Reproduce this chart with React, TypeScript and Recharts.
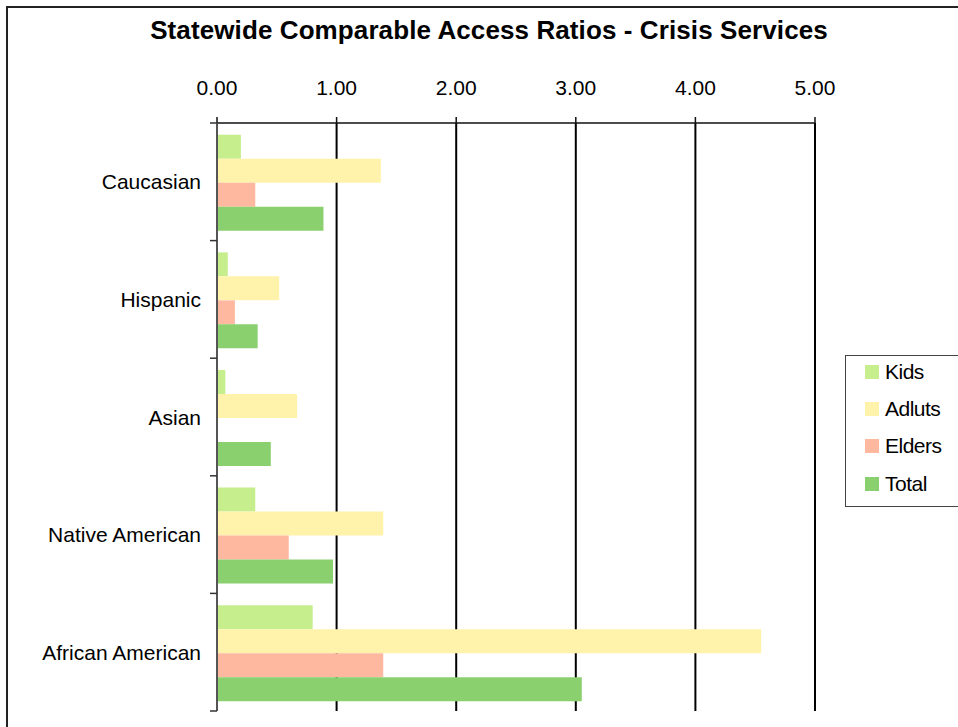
import React from "react";
import { BarChart, Bar, XAxis, YAxis, CartesianGrid, Legend } from "recharts";

const categories = ["Caucasian", "Hispanic", "Asian", "Native American", "African American"];
const kids = [0.2, 0.09, 0.07, 0.32, 0.8];
const adults = [1.37, 0.52, 0.67, 1.39, 4.55];
const elders = [0.32, 0.15, 0, 0.6, 1.39];
const total = [0.89, 0.34, 0.45, 0.97, 3.05];
const xTicks = [0, 1, 2, 3, 4, 5];

const seriesNames = ["Kids", "Adluts", "Elders", "Total"];
const seriesKeys = ["kids", "adults", "elders", "total"];
const colors = ["#C6EE8C", "#FFF2AA", "#FFB8A0", "#8AD06E"];

const data = categories.map((name, i) => ({
  name,
  kids: kids[i],
  adults: adults[i],
  elders: elders[i],
  total: total[i],
}));

const W = 958;
const H = 727;
const MARGIN = { top: 60, right: 143, bottom: 16, left: 0 };
const X_AXIS_H = 63;
const Y_AXIS_W = 217;
const PLOT_H = H - MARGIN.top - MARGIN.bottom - X_AXIS_H;
const BAND = PLOT_H / categories.length;
const FONT = "'Liberation Sans', Arial, sans-serif";

const YTick = (props: any) => {
  const { y, payload, index } = props;
  const axisX = MARGIN.left + Y_AXIS_W;
  return (
    <g>
      <text
        x={axisX - 16}
        y={y}
        textAnchor="end"
        dominantBaseline="central"
        fontSize={21}
        fontFamily={FONT}
        fill="#000"
      >
        {payload.value}
      </text>
      <line x1={axisX - 7} x2={axisX} y1={y - BAND / 2} y2={y - BAND / 2} stroke="#333" strokeWidth={1.5} />
      {index === categories.length - 1 && (
        <line x1={axisX - 7} x2={axisX} y1={y + BAND / 2} y2={y + BAND / 2} stroke="#333" strokeWidth={1.5} />
      )}
    </g>
  );
};

const LegendContent = () => (
  <div
    style={{
      width: 130,
      height: 152,
      border: "1.5px solid #444",
      boxSizing: "border-box",
      background: "#fff",
      fontFamily: FONT,
      fontSize: 21,
      color: "#000",
      paddingTop: 0,
    }}
  >
    {seriesNames.map((n, i) => (
      <div
        key={n}
        style={{ display: "flex", alignItems: "center", height: 37.3, marginTop: i === 0 ? -3 : 0 }}
      >
        <div style={{ width: 14, height: 14, background: colors[i], marginLeft: 19, marginRight: 6 }} />
        <span style={{ letterSpacing: -0.5 }}>{n}</span>
      </div>
    ))}
  </div>
);

export default function App() {
  return (
    <div
      style={{
        position: "absolute",
        left: 0,
        top: 0,
        width: W,
        height: H,
        overflow: "hidden",
        background: "#fff",
      }}
    >
      <div
        style={{
          position: "absolute",
          left: 6,
          top: 6,
          width: 1100,
          height: 1100,
          borderTop: "2px solid #222",
          borderLeft: "2px solid #222",
        }}
      />
      <div
        style={{
          position: "absolute",
          left: 0,
          top: 14,
          width: 978,
          textAlign: "center",
          fontFamily: FONT,
          fontWeight: "bold",
          fontSize: 26,
          lineHeight: "32px",
          color: "#000",
          letterSpacing: 0.1,
          zIndex: 2,
        }}
      >
        Statewide Comparable Access Ratios - Crisis Services
      </div>
      <BarChart
        width={W}
        height={H}
        data={data}
        layout="vertical"
        margin={MARGIN}
        barCategoryGap="10%"
        barGap={0}
      >
        <CartesianGrid horizontal={false} stroke="#000" strokeWidth={2} />
        <XAxis
          type="number"
          orientation="top"
          domain={[0, 5]}
          ticks={xTicks}
          height={X_AXIS_H}
          tickFormatter={(v: number) => v.toFixed(2)}
          tick={{ fill: "#000", fontSize: 21, fontFamily: FONT }}
          tickSize={6}
          tickMargin={22}
          axisLine={{ stroke: "#111", strokeWidth: 1.5 }}
          tickLine={{ stroke: "#111", strokeWidth: 1.5 }}
        />
        <YAxis
          type="category"
          dataKey="name"
          width={Y_AXIS_W}
          tick={<YTick />}
          tickLine={false}
          axisLine={{ stroke: "#555", strokeWidth: 2 }}
          interval={0}
        />
        <Legend
          layout="vertical"
          verticalAlign="middle"
          align="center"
          content={<LegendContent />}
          wrapperStyle={{ position: "absolute", left: 845, top: 355, width: 130 }}
        />
        {seriesKeys.map((k, i) => (
          <Bar key={k} dataKey={k} name={seriesNames[i]} fill={colors[i]} isAnimationActive={false} />
        ))}
      </BarChart>
    </div>
  );
}
